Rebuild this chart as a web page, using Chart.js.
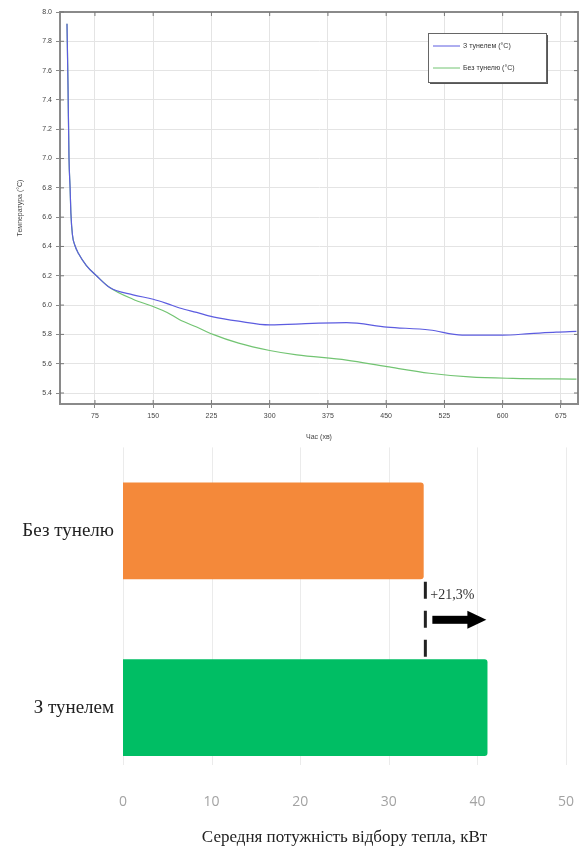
<!DOCTYPE html>
<html>
<head>
<meta charset="utf-8">
<script src="https://cdn.jsdelivr.net/npm/chart.js@4.4.1/dist/chart.umd.min.js"></script>
<style>
  html, body { margin: 0; padding: 0; background: #fff; }
  #wrap { position: relative; width: 583px; height: 852px; }
  #tempChart { position: absolute; left: 0; top: 0; }
  #powerChart { position: absolute; left: 0; top: 430px; }
</style>
</head>
<body>
<div id="wrap">
  <canvas id="tempChart" width="583" height="445"></canvas>
  <canvas id="powerChart" width="583" height="422"></canvas>
</div>
<script>
// --- temperature curves, time in minutes ---
const timeWith    = [39, 40.3, 41.6, 43, 44, 46, 49, 54, 64, 77, 94, 124, 150, 168, 184, 206, 227, 260, 300, 355, 399, 451, 506, 548, 600, 635, 669, 695];
const tempWith    = [7.92, 7.5, 7.0, 6.8, 6.63, 6.48, 6.41, 6.35, 6.27, 6.2, 6.12, 6.07, 6.04, 6.01, 5.98, 5.95, 5.92, 5.89, 5.865, 5.875, 5.88, 5.85, 5.83, 5.795, 5.795, 5.805, 5.815, 5.82];
const timeWithout = [39, 40.3, 41.6, 43, 44, 46, 49, 54, 64, 77, 94, 124, 150, 168, 184, 206, 227, 260, 300, 335, 399, 451, 506, 557, 613, 695];
const tempWithout = [7.92, 7.5, 7.0, 6.8, 6.63, 6.48, 6.41, 6.35, 6.27, 6.2, 6.12, 6.04, 5.99, 5.95, 5.90, 5.85, 5.80, 5.74, 5.69, 5.66, 5.625, 5.58, 5.535, 5.51, 5.50, 5.495];
const timeTicks = [75, 150, 225, 300, 375, 450, 525, 600, 675];
const tempTicks = [5.4, 5.6, 5.8, 6.0, 6.2, 6.4, 6.6, 6.8, 7.0, 7.2, 7.4, 7.6, 7.8, 8.0];

// --- average heat extraction power ---
const categories = ['Без тунелю', 'З тунелем'];
const power = [33.9, 41.1];
const powerTicks = [0, 10, 20, 30, 40, 50];
const gainLabel = '+21,3%';

const small = { family: 'Liberation Sans', size: 7 };

// frame round the plot + boxed legend for the line chart
const frameAndLegend = {
  id: 'frameAndLegend',
  afterDraw(chart) {
    const { ctx, chartArea: a, scales } = chart;
    ctx.save();
    ctx.strokeStyle = '#8a8a8a';
    ctx.lineWidth = 2;
    ctx.strokeRect(a.left, a.top, a.right - a.left, a.bottom - a.top);
    // small inner ticks on all four sides
    ctx.lineWidth = 1;
    ctx.strokeStyle = '#777';
    timeTicks.forEach(v => {
      const x = scales.x.getPixelForValue(v);
      ctx.beginPath();
      ctx.moveTo(x, a.top); ctx.lineTo(x, a.top + 4);
      ctx.moveTo(x, a.bottom); ctx.lineTo(x, a.bottom - 4);
      ctx.stroke();
    });
    tempTicks.forEach(v => {
      const y = scales.y.getPixelForValue(v);
      ctx.beginPath();
      ctx.moveTo(a.right, y); ctx.lineTo(a.right - 4, y);
      ctx.moveTo(a.left, y); ctx.lineTo(a.left + 4, y);
      ctx.stroke();
    });

    // legend box
    const bx = a.right - 150, by = a.top + 21, bw = 118, bh = 49;
    ctx.fillStyle = '#555';
    ctx.fillRect(bx + 2, by + 2, bw, bh);
    ctx.fillStyle = '#fff';
    ctx.fillRect(bx, by, bw, bh);
    ctx.strokeStyle = '#666';
    ctx.strokeRect(bx + 0.5, by + 0.5, bw, bh);
    ctx.font = '7px "Liberation Sans"';
    ctx.textBaseline = 'middle';
    chart.data.datasets.forEach((ds, i) => {
      const y = by + 13 + i * 22;
      ctx.strokeStyle = ds.borderColor;
      ctx.beginPath();
      ctx.moveTo(bx + 5, y); ctx.lineTo(bx + 32, y);
      ctx.stroke();
      ctx.fillStyle = '#333';
      ctx.fillText(ds.label, bx + 35, y);
    });
    ctx.restore();
  }
};

new Chart(document.getElementById('tempChart'), {
  type: 'line',
  data: {
    datasets: [{
      label: 'З тунелем (°C)',
      data: timeWith.map((t, i) => ({ x: t, y: tempWith[i] })),
      borderColor: '#5c5ce0',
      borderWidth: 1.2,
      pointRadius: 0,
      cubicInterpolationMode: 'monotone'
    }, {
      label: 'Без тунелю (°C)',
      data: timeWithout.map((t, i) => ({ x: t, y: tempWithout[i] })),
      borderColor: '#72c472',
      borderWidth: 1.2,
      pointRadius: 0,
      cubicInterpolationMode: 'monotone'
    }]
  },
  options: {
    responsive: false,
    animation: false,
    layout: { padding: { top: 12, right: 5, left: 0, bottom: 0 } },
    plugins: { legend: { display: false }, tooltip: { enabled: false } },
    scales: {
      x: {
        type: 'linear',
        min: 30,
        max: 697,
        afterBuildTicks: s => { s.ticks = timeTicks.map(v => ({ value: v })); },
        afterFit: s => { s.height = 41; },
        grid: { color: '#e4e4e4', tickLength: 4, tickColor: '#888' },
        border: { color: '#8a8a8a', width: 2 },
        ticks: { font: small, color: '#444', padding: 4, maxRotation: 0 },
        title: { display: true, text: 'Час (хв)', font: small, color: '#444', padding: { top: 0, bottom: 4 } }
      },
      y: {
        min: 5.325,
        max: 8.0,
        afterBuildTicks: s => { s.ticks = tempTicks.map(v => ({ value: v })); },
        afterFit: s => { s.width = 60; },
        grid: { color: '#e4e4e4', tickLength: 4, tickColor: '#888' },
        border: { color: '#8a8a8a', width: 2 },
        ticks: { font: small, color: '#444', padding: 4, callback: v => v.toFixed(1) },
        title: { display: true, text: 'Температура (°C)', font: small, color: '#444', padding: { top: 16, bottom: 0 } }
      }
    }
  },
  plugins: [frameAndLegend]
});

// grid lines + dashed marker, gain label and arrow for the bar chart
const barExtras = {
  id: 'barExtras',
  beforeDatasetsDraw(chart) {
    const { ctx, chartArea: a, scales } = chart;
    ctx.save();
    ctx.strokeStyle = '#ebebeb';
    ctx.lineWidth = 1;
    powerTicks.forEach(v => {
      const x = Math.round(scales.x.getPixelForValue(v)) + 0.5;
      ctx.beginPath();
      ctx.moveTo(x, a.top + 5);
      ctx.lineTo(x, a.bottom - 31);
      ctx.stroke();
    });
    ctx.restore();
  },
  afterDatasetsDraw(chart) {
    const { ctx } = chart;
    const bars = chart.getDatasetMeta(0).data;
    const b0 = bars[0], b1 = bars[1];
    const x = b0.x + 2;
    const y0 = b0.y + b0.height / 2 + 3;
    const y1 = b1.y - b1.height / 2;
    ctx.save();
    ctx.strokeStyle = '#222';
    ctx.lineWidth = 3;
    ctx.setLineDash([17, 12]);
    ctx.beginPath();
    ctx.moveTo(x, y0);
    ctx.lineTo(x, y1);
    ctx.stroke();
    ctx.setLineDash([]);

    ctx.fillStyle = '#333';
    ctx.font = '14px "Liberation Serif"';
    ctx.textBaseline = 'middle';
    ctx.fillText(gainLabel, x + 5, y0 + 14);

    // arrow
    const ay = y0 + 38, ax0 = x + 7, ax1 = x + 61;
    ctx.fillStyle = '#000';
    ctx.fillRect(ax0, ay - 4, ax1 - ax0 - 18, 8);
    ctx.beginPath();
    ctx.moveTo(ax1 - 19, ay - 9);
    ctx.lineTo(ax1, ay);
    ctx.lineTo(ax1 - 19, ay + 9);
    ctx.closePath();
    ctx.fill();
    ctx.restore();
  }
};

new Chart(document.getElementById('powerChart'), {
  type: 'bar',
  data: {
    labels: categories,
    datasets: [{
      data: power,
      backgroundColor: ['#F4893A', '#00BE64'],
      borderRadius: 3,
      borderSkipped: 'left',
      barThickness: 96
    }]
  },
  options: {
    indexAxis: 'y',
    responsive: false,
    animation: false,
    layout: { padding: { top: 12, right: 17, left: 0, bottom: 0 } },
    plugins: { legend: { display: false }, tooltip: { enabled: false } },
    scales: {
      x: {
        type: 'linear',
        min: 0,
        max: 50,
        afterBuildTicks: s => { s.ticks = powerTicks.map(v => ({ value: v })); },
        afterFit: s => { s.height = 56; },
        grid: { display: false },
        border: { display: false },
        ticks: { font: { family: 'Open Sans', size: 14 }, color: '#a3a3a3', padding: -10 },
        title: {
          display: true,
          text: 'Середня потужність відбору тепла, кВт',
          font: { family: 'Liberation Serif', size: 17 },
          color: '#222',
          padding: { top: 0, bottom: 4 }
        }
      },
      y: {
        afterFit: s => { s.width = 123; },
        grid: { display: false },
        border: { display: false },
        ticks: { font: { family: 'Liberation Serif', size: 19 }, color: '#222', padding: 1 }
      }
    }
  },
  plugins: [barExtras]
});
</script>
</body>
</html>
